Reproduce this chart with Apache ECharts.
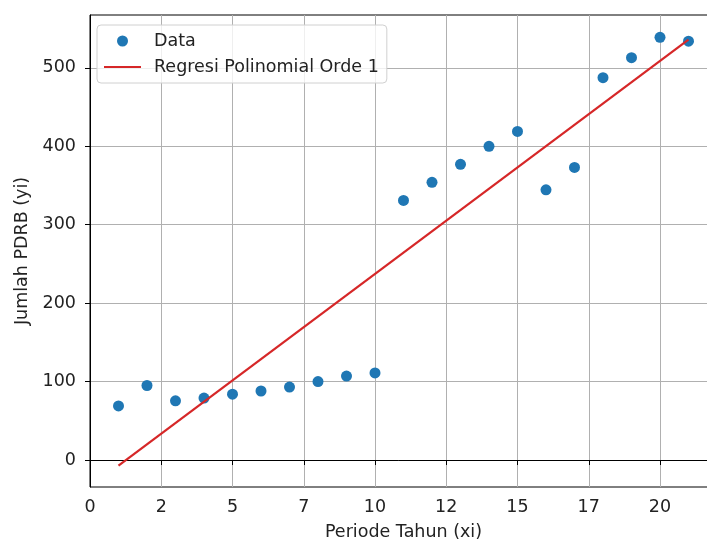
<!DOCTYPE html>
<html>
<head>
<meta charset="utf-8">
<script src="https://cdn.jsdelivr.net/npm/echarts@6/dist/echarts.min.js"></script>
<style>
html,body{margin:0;padding:0;background:#fff;}
#c{width:707px;height:542px;}
</style>
</head>
<body>
<div id="c"></div>
<script>
const xValues = [1,2,3,4,5,6,7,8,9,10,11,12,13,14,15,16,17,18,19,20,21];
const yValues = [69,95,75.5,79,84,88,93,100,107,111,331,354,377,400,419,344.5,373,487.5,513,539,534];
const fitX = [1, 21];
const fitY = [-7, 536];
const yTicks = [0,100,200,300,400,500];
const seriesNames = ['Data', 'Regresi Polinomial Orde 1'];

const font = 'DejaVu Sans';
const fs = 17.5;
const chart = echarts.init(document.getElementById('c'), null, {renderer:'canvas'});
chart.setOption({
  animation:false,
  backgroundColor:'#fff',
  textStyle:{fontFamily:font},
  grid:{left:90, top:15, right:-10, bottom:55, show:true, borderColor:'#000', borderWidth:1,
        containLabel:false, outerBoundsMode:'none'},
  legend:{
    orient:'vertical', left:97, top:25,
    padding:[7,8,7,6],
    itemWidth:37, itemHeight:11, itemGap:8,
    backgroundColor:'rgba(255,255,255,0.8)',
    borderColor:'#d0d0d0', borderWidth:1, borderRadius:4,
    textStyle:{fontFamily:font, fontSize:fs, color:'#222', padding:[0,0,0,8]},
    data:[{name:seriesNames[0], icon:'circle'}, {name:seriesNames[1], itemStyle:{opacity:0}}]
  },
  xAxis:{
    type:'value', min:0, max:22, interval:2.5,
    name:'Periode Tahun (xi)', nameLocation:'middle', nameGap:36,
    nameTextStyle:{fontFamily:font, fontSize:fs, color:'#222'},
    axisLine:{show:true, lineStyle:{color:'#000', width:1}},
    axisTick:{show:true, length:5, lineStyle:{color:'#000'}},
    axisLabel:{fontFamily:font, fontSize:fs, color:'#222', margin:11, showMaxLabel:false,
      formatter:v=>String(Math.floor(v))},
    splitLine:{show:true, lineStyle:{color:'#b0b0b0', width:1}}
  },
  yAxis:{
    type:'value', min:-34.4, max:567.4,
    name:'Jumlah PDRB (yi)', nameLocation:'middle', nameGap:53, nameRotate:90,
    nameTextStyle:{fontFamily:font, fontSize:fs, color:'#222'},
    axisLine:{show:true, lineStyle:{color:'#000', width:1}},
    axisTick:{show:true, length:5, lineStyle:{color:'#000'}, customValues:yTicks},
    axisLabel:{fontFamily:font, fontSize:fs, color:'#222', margin:14, customValues:yTicks},
    splitLine:{show:true, lineStyle:{color:'#b0b0b0', width:1}}
  },
  series:[
    {name:seriesNames[0], type:'scatter', symbol:'circle', symbolSize:11,
     itemStyle:{color:'#1f77b4', opacity:1},
     data:xValues.map((x,i)=>[x,yValues[i]]), z:3},
    {name:seriesNames[1], type:'line', symbol:'none', showSymbol:false,
     lineStyle:{color:'#d62728', width:2.2},
     itemStyle:{color:'#d62728'},
     data:fitX.map((x,i)=>[x,fitY[i]]), z:4}
  ]
});
</script>
</body>
</html>
